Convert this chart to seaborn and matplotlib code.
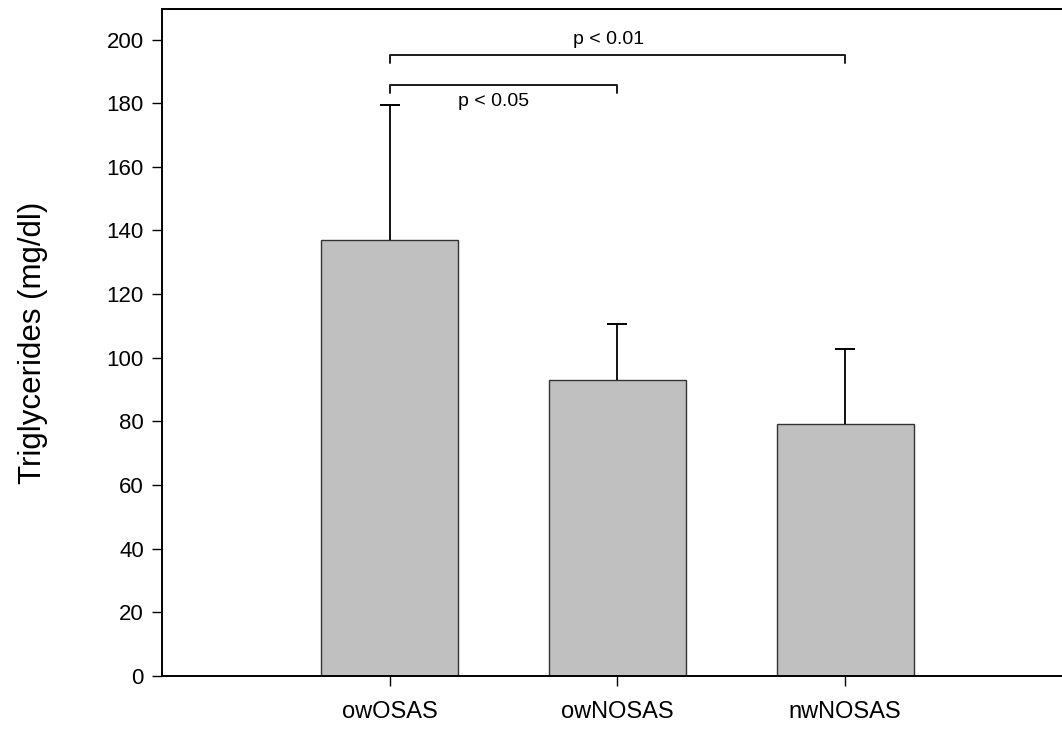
import pandas as pd
import matplotlib.pyplot as plt
import seaborn as sns

# Values
groups = ["owOSAS", "owNOSAS", "nwNOSAS"]
means = [137.0, 93.0, 79.2]
sds = [42.5, 17.6, 23.5]
yticks = [0, 20, 40, 60, 80, 100, 120, 140, 160, 180, 200]

df = pd.DataFrame({"group": groups, "tg": means})
tops = [m + s for m, s in zip(means, sds)]

sns.set_theme(style="white", rc={"text.color": "black", "axes.labelcolor": "black",
                                 "xtick.color": "black", "ytick.color": "black"})
plt.rcParams["font.family"] = ["Liberation Sans", "DejaVu Sans"]

fig = plt.figure(figsize=(10.62, 7.29), dpi=100)
ax = fig.add_axes([0.1525, 0.0727, 0.8578, 0.915])

sns.barplot(data=df, x="group", y="tg", width=0.6, color="#c0c0c0",
            edgecolor="#333333", linewidth=1.0, errorbar=None, saturation=1, ax=ax)

# upper error bars only (SD), cap only at the top
xpos = list(range(len(groups)))
ax.errorbar(xpos, means, yerr=[[0] * len(sds), sds], fmt="none",
            ecolor="black", elinewidth=1.3, capsize=0, zorder=3)
ax.plot(xpos, tops, linestyle="none", marker="_", markersize=14,
        markeredgewidth=1.4, color="black", zorder=3)

ax.set_xlim(-1, 3)
ax.set_ylim(0, 209.6)
ax.set_yticks(yticks)
ax.set_xlabel("")
ax.set_ylabel("Triglycerides (mg/dl)", fontsize=22.5, labelpad=42)

ax.tick_params(axis="both", which="both", direction="out", length=7, width=1.0,
               color="black", labelsize=16, pad=6, bottom=True, left=True)
ax.tick_params(axis="x", pad=11, labelsize=17)

for side in ["left", "top", "bottom"]:
    ax.spines[side].set_color("black")
    ax.spines[side].set_linewidth(1.4)
ax.spines["right"].set_visible(False)

# significance brackets
def bracket(x0, x1, y, drop, label, ty, tx, va):
    ax.plot([x0, x0, x1, x1], [y - drop, y, y, y - drop], color="#1a1a1a", lw=1.4)
    ax.text(tx, ty, label, ha="center", va=va, fontsize=14)

bracket(0, 1, 185.7, 2.4, "p < 0.05", 183.2, 0.458, "top")
bracket(0, 2, 195.1, 2.5, "p < 0.01", 197.3, 0.963, "bottom")

plt.savefig("out.png", dpi=100)
